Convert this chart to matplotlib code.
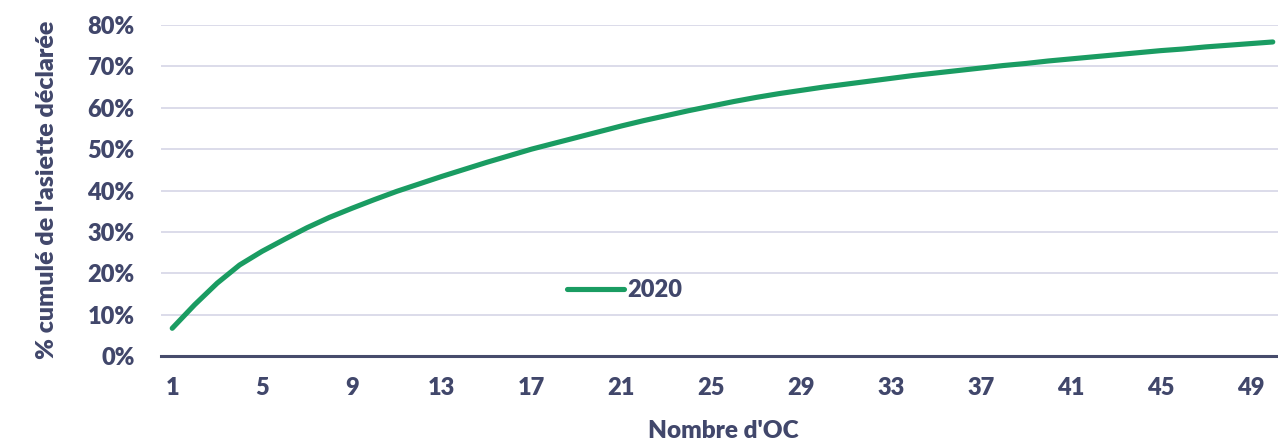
import matplotlib
matplotlib.use("Agg")
import matplotlib.pyplot as plt
from matplotlib.ticker import PercentFormatter

# Data
nombre_oc = list(range(1, 51))
cumul_2020 = [6.7, 12.4, 17.6, 22.0, 25.3, 28.2, 31.0, 33.5, 35.7, 37.8,
              39.8, 41.6, 43.4, 45.1, 46.8, 48.4, 50.0, 51.4, 52.8, 54.2,
              55.6, 56.9, 58.1, 59.3, 60.4, 61.5, 62.5, 63.4, 64.2, 65.0,
              65.7, 66.4, 67.1, 67.8, 68.4, 69.0, 69.6, 70.2, 70.7, 71.3,
              71.8, 72.3, 72.8, 73.3, 73.8, 74.2, 74.7, 75.1, 75.5, 75.9]
x_ticks = list(range(1, 51, 4))
y_ticks = [0, 10, 20, 30, 40, 50, 60, 70, 80]
series_label = "2020"

TXT = "#41476b"
GREEN = "#1a9c62"
GRID = "#d9d9e8"
FW = 'heavy'

plt.rcParams['font.family'] = ['Lato', 'DejaVu Sans']
plt.rcParams['font.weight'] = FW

W, H = 1278, 441
fig = plt.figure(figsize=(W / 100, H / 100), dpi=100)
left, right, bottom, top = 161, 1284, 356, 25
ax = fig.add_axes([left / W, (H - bottom) / H, (right - left) / W, (bottom - top) / H])

ax.plot(nombre_oc, cumul_2020, color=GREEN, lw=3.7, solid_capstyle='round',
        solid_joinstyle='round', label=series_label, clip_on=False, zorder=3)

ax.set_xlim(0.5, 50.5)
ax.set_ylim(0, 80)
ax.set_xticks(x_ticks)
ax.set_xticklabels([str(t) for t in x_ticks])
ax.set_yticks(y_ticks)
ax.yaxis.set_major_formatter(PercentFormatter(decimals=0))

ax.grid(axis='y', color=GRID, lw=1.3, zorder=0)
ax.set_axisbelow(True)
for s in ['top', 'right', 'left']:
    ax.spines[s].set_visible(False)
ax.spines['bottom'].set_color('#474c6c')
ax.spines['bottom'].set_linewidth(2.2)
ax.spines['bottom'].set_zorder(4)

ax.tick_params(axis='both', length=0, labelsize=17, labelcolor=TXT)
ax.tick_params(axis='x', pad=15)
ax.tick_params(axis='y', pad=19)
for lbl in ax.get_xticklabels() + ax.get_yticklabels():
    lbl.set_fontweight(FW)

fig.text(47 / W, 1 - 190 / H, "% cumulé de l'asiette déclarée", rotation=90,
         ha='center', va='center', fontsize=18, fontweight=FW, color=TXT)
fig.text(723 / W, 1 - 431 / H, "Nombre d'OC", ha='center', va='center',
         fontsize=17.5, fontweight=FW, color=TXT)

leg = ax.legend(loc='center left', bbox_to_anchor=((567 - left) / (right - left), (bottom - 290) / (bottom - top)),
                frameon=False, fontsize=17, handlelength=2.4, handletextpad=0.15,
                borderaxespad=0, borderpad=0)
for t in leg.get_texts():
    t.set_color(TXT)
    t.set_fontweight(FW)

fig.savefig("out.png", dpi=100, facecolor='white')
